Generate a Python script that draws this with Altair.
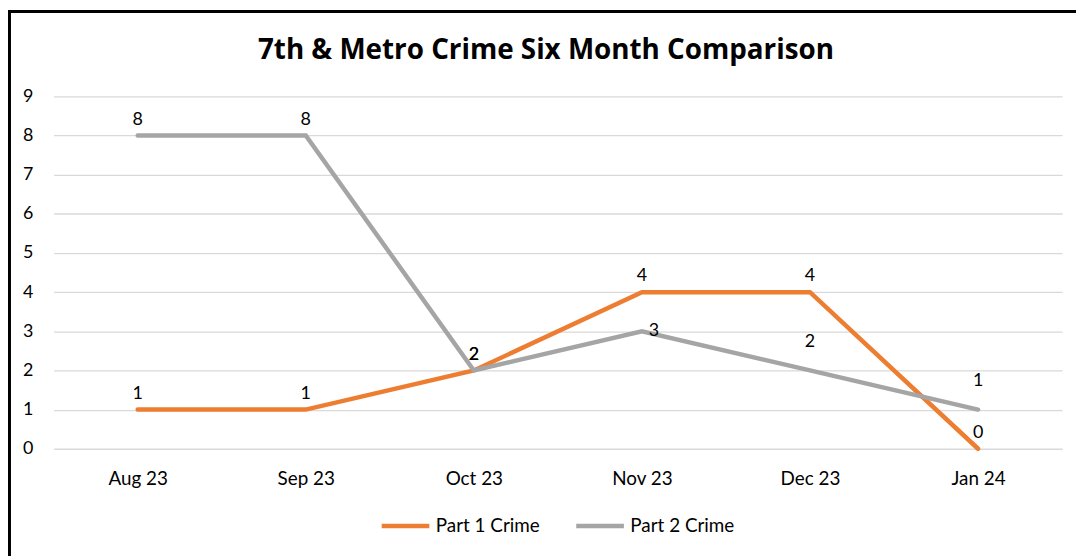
import altair as alt
import pandas as pd

months = ["Aug 23", "Sep 23", "Oct 23", "Nov 23", "Dec 23", "Jan 24"]
part1 = [1, 1, 2, 4, 4, 0]
part2 = [8, 8, 2, 3, 2, 1]
series_names = ["Part 1 Crime", "Part 2 Crime"]
colors = ["#ED7D31", "#A5A5A5"]
y_ticks = list(range(10))
title_text = "7th & Metro Crime Six Month Comparison"

rows = []
for m, a, b in zip(months, part1, part2):
    rows.append({"month": m, "series": series_names[0], "value": a})
    rows.append({"month": m, "series": series_names[1], "value": b})
df = pd.DataFrame(rows)

W, H = 1016, 355
FONT = "Lato"
TXT = "#000000"

x = alt.X("month:N", sort=months,
          scale=alt.Scale(type="point", padding=0.5),
          axis=alt.Axis(title=None, labelAngle=0, domain=False, ticks=False,
                        labelFontSize=19, labelFont=FONT, labelColor=TXT,
                        labelPadding=21, grid=False))
y = alt.Y("value:Q", scale=alt.Scale(domain=[0, 9], nice=False),
          axis=alt.Axis(title=None, values=y_ticks, domain=False, ticks=False,
                        gridColor="#D9D9D9", gridWidth=1.3,
                        labelFontSize=18, labelFont=FONT, labelColor=TXT,
                        labelPadding=21))
color = alt.Color("series:N",
                  scale=alt.Scale(domain=series_names, range=colors),
                  legend=alt.Legend(title=None, orient="none", direction="horizontal",
                                    legendX=328, legendY=406,
                                    symbolType="stroke", symbolSize=2304,
                                    symbolStrokeWidth=4.5,
                                    labelFontSize=19, labelFont=FONT, labelColor=TXT,
                                    labelOffset=4, columnPadding=27))

base = alt.Chart(df)

lines = base.mark_line(strokeWidth=4.5, strokeCap="round").encode(x=x, y=y, color=color)

def labels(expr, dx=0, dy=-7, baseline="bottom", align="center"):
    return base.transform_filter(expr).mark_text(
        font=FONT, fontSize=18, color=TXT, dx=dx, dy=dy,
        baseline=baseline, align=align
    ).encode(x=x, y=y, text="value:Q")

normal = labels("!(datum.series == 'Part 2 Crime' && (datum.month == 'Nov 23' || datum.month == 'Dec 23' || datum.month == 'Jan 24'))")
high = labels("datum.series == 'Part 2 Crime' && (datum.month == 'Dec 23' || datum.month == 'Jan 24')", dy=-20)
right = labels("datum.series == 'Part 2 Crime' && datum.month == 'Nov 23'", dx=7, dy=0, baseline="middle", align="left")

one = pd.DataFrame({"t": [title_text]})
title = alt.Chart(one).mark_text(
    font="Open Sans", fontSize=28, fontWeight="bold", color=TXT,
    align="center", baseline="alphabetic"
).encode(x=alt.value(W / 2 - 12), y=alt.value(-38), text="t:N")

border = alt.Chart(pd.DataFrame({"k": [0]})).mark_rect(
    fillOpacity=0, stroke="black", strokeWidth=3
).encode(x=alt.value(-44.5), x2=alt.value(W + 60), y=alt.value(-85.5), y2=alt.value(H + 160))

chart = alt.layer(lines, normal, high, right, title, border).properties(
    width=W, height=H,
    padding={"left": 46, "top": 87, "right": 14, "bottom": 106},
    autosize="none",
).configure_view(strokeWidth=0)

chart.save("out.html", embed_options={"renderer": "svg", "actions": False})
